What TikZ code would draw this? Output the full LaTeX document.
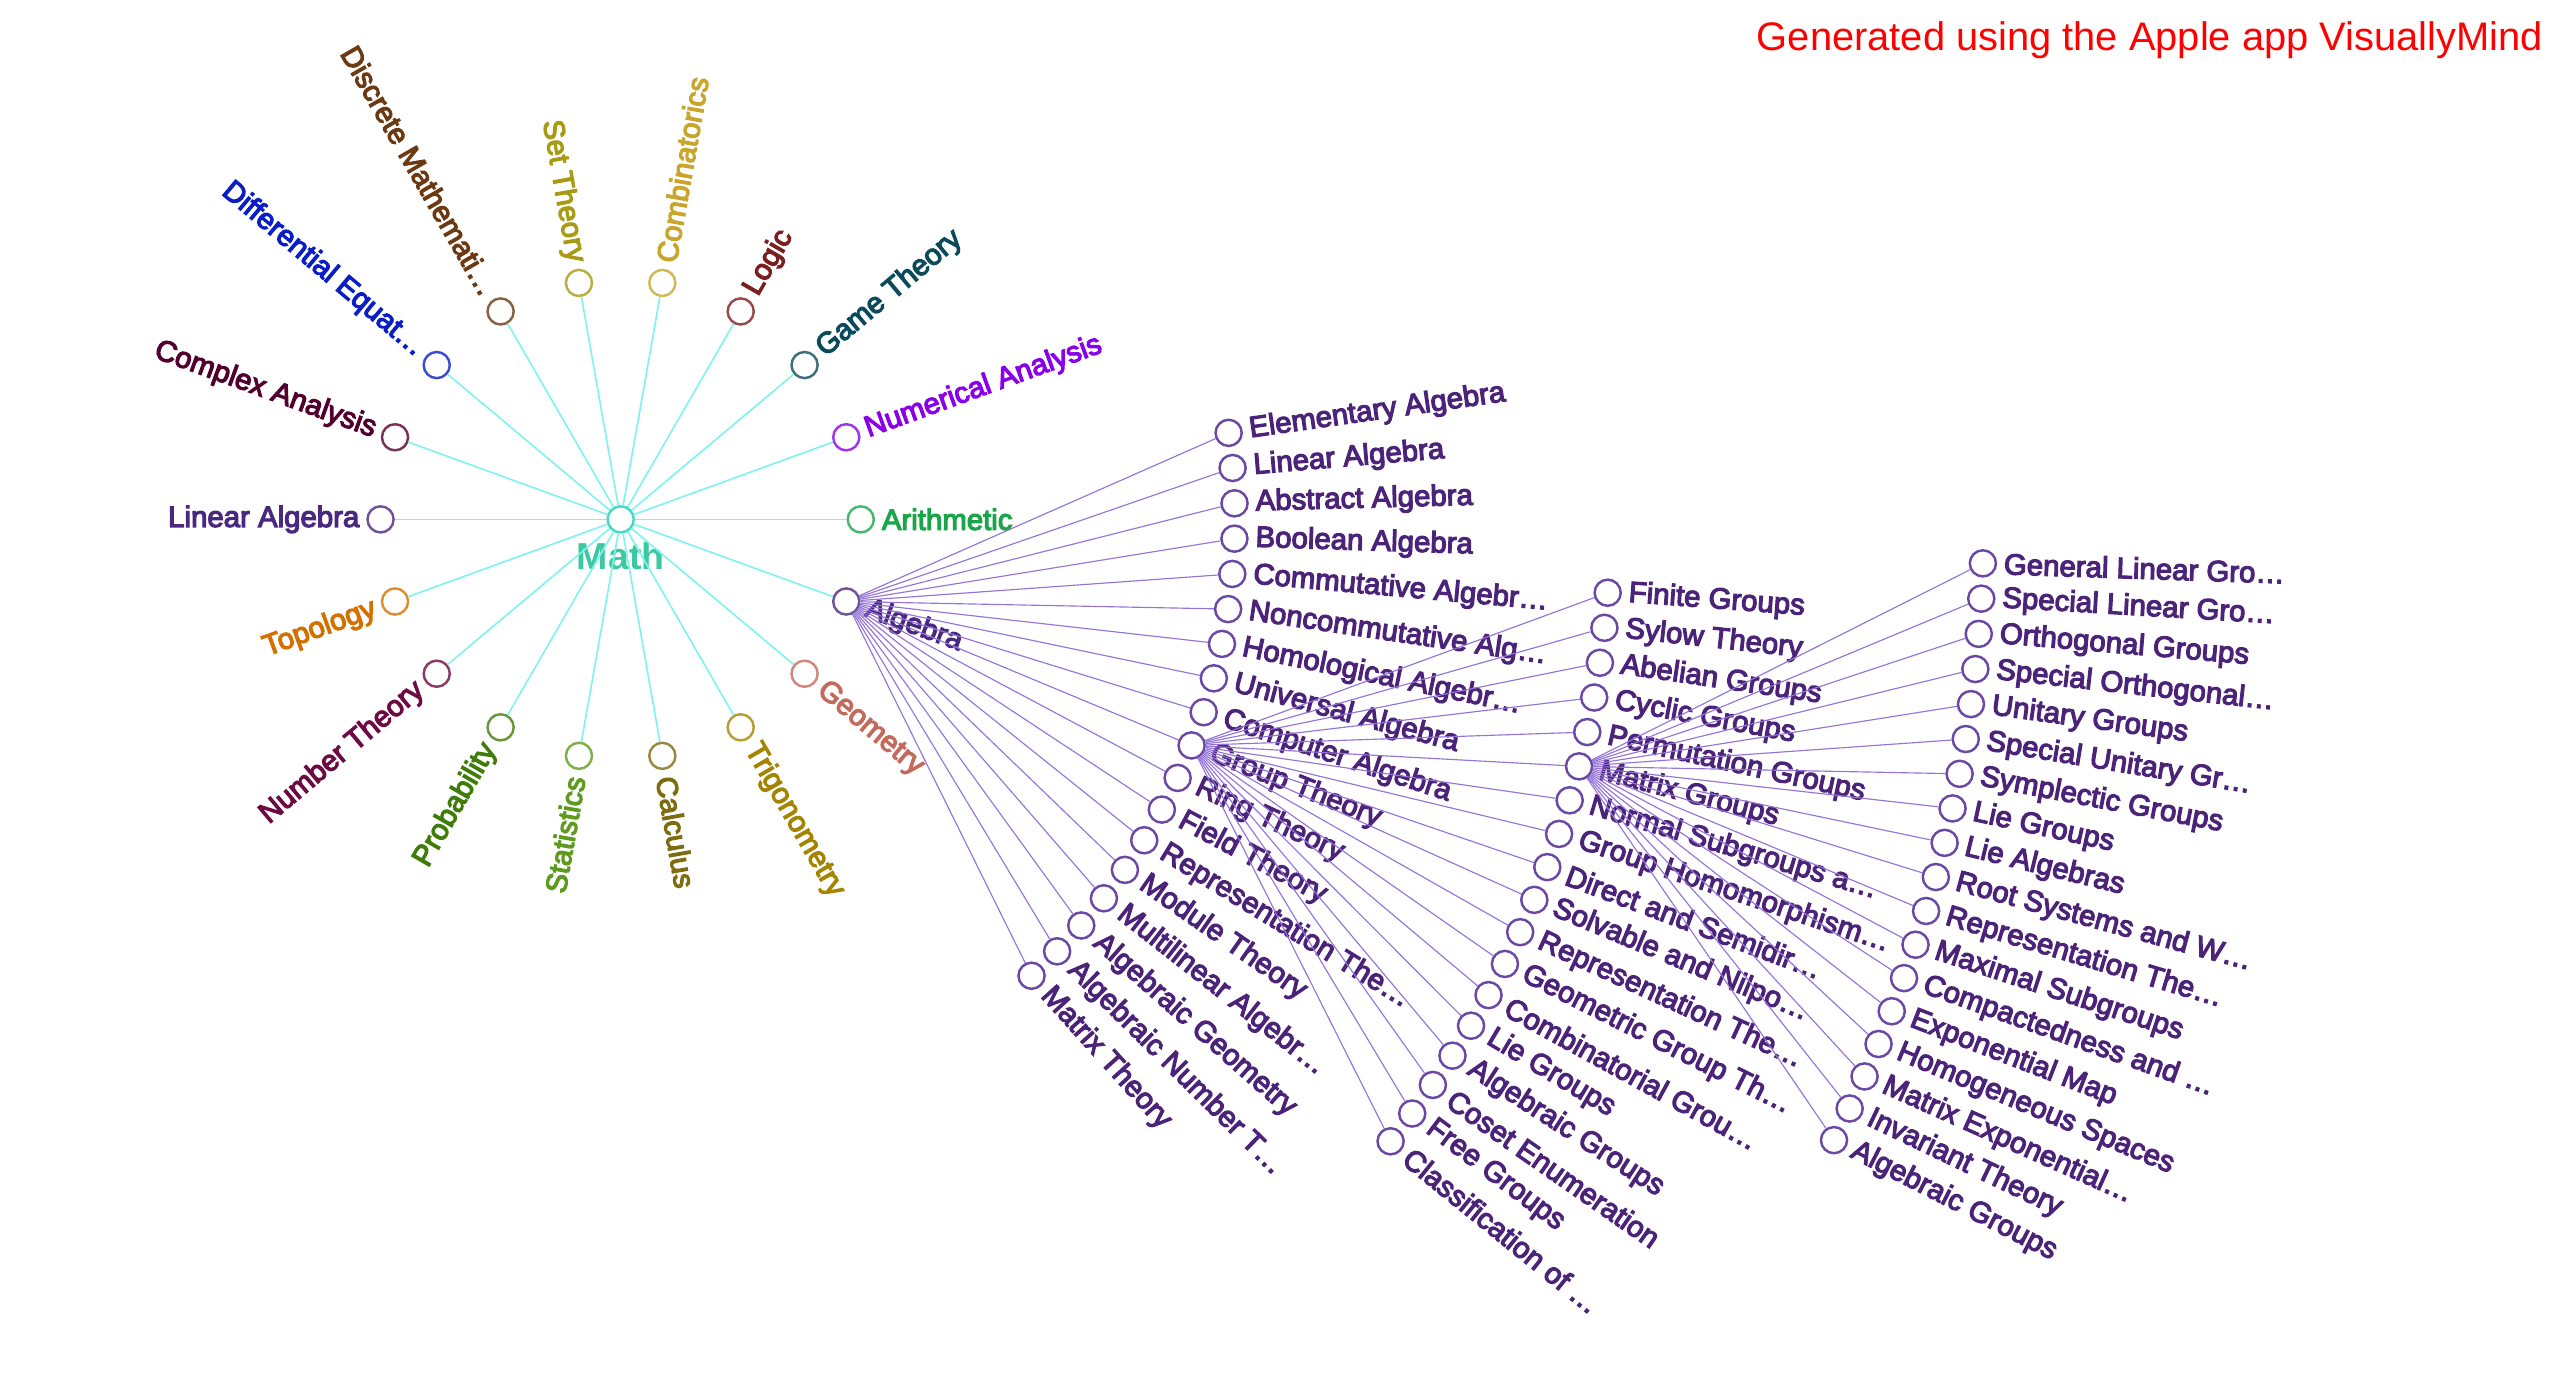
\documentclass[tikz,border=0pt]{standalone}
\usepackage{fontspec}
\setmainfont{Liberation Sans}
\font\mapfont="Liberation Sans:embolden=4" at 18pt
\font\rootfont="Liberation Sans/B" at 23pt
\usetikzlibrary{positioning}

\definecolor{mathtext}{HTML}{3CC9A2}
\definecolor{mathring}{HTML}{48D8C8}
\definecolor{mathline}{HTML}{7FF3EE}
\definecolor{algtext}{HTML}{4B2378}
\definecolor{algring}{HTML}{6A48A4}
\definecolor{algline}{HTML}{9474D8}
\definecolor{cArith}{HTML}{1AA54A}
\definecolor{cNum}{HTML}{8A00E8}
\definecolor{cGame}{HTML}{0B4A5A}
\definecolor{cLogic}{HTML}{7A1E1E}
\definecolor{cComb}{HTML}{C9A52C}
\definecolor{cSet}{HTML}{A89A12}
\definecolor{cDisc}{HTML}{6B3A12}
\definecolor{cDiff}{HTML}{0A1EC8}
\definecolor{cCplx}{HTML}{52002E}
\definecolor{cLin}{HTML}{4A2880}
\definecolor{cTopo}{HTML}{D47000}
\definecolor{cNumth}{HTML}{6E0A42}
\definecolor{cProb}{HTML}{3E7E08}
\definecolor{cStat}{HTML}{5E9A1E}
\definecolor{cCalc}{HTML}{7E6C10}
\definecolor{cTrig}{HTML}{A48400}
\definecolor{cGeom}{HTML}{C46A5C}
\definecolor{cAlg}{HTML}{4A2880}

\begin{document}
\begin{tikzpicture}[
    x=1pt, y=1pt,
    dot/.style={circle, draw, line width=1.5pt, minimum size=16pt, inner sep=0pt, fill=white},
    lbl/.style={font=\mapfont, inner sep=4pt},
    rootline/.style={draw=mathline, line width=1pt},
    subline/.style={draw=algline, line width=0.7pt}
  ]

  \useasboundingbox (-380,-538) rectangle (1188,318);

  % Root
  \node[dot, draw=mathring] (math) at (0,0) {};
  \node[font=\rootfont, text=mathtext] (math-t) at (0,-22.5) {Math};

  % First ring, one branch every 20 degrees
  \foreach \a/\nm/\col/\rot/\side/\txt in {
      0/arith/cArith/0/west/Arithmetic,
      20/numan/cNum/20/west/Numerical Analysis,
      40/game/cGame/40/west/Game Theory,
      60/logic/cLogic/60/west/Logic,
      80/comb/cComb/80/west/Combinatorics,
      100/sets/cSet/-80/east/Set Theory,
      120/discr/cDisc/-60/east/Discrete Mathemati…,
      140/diffeq/cDiff/-40/east/Differential Equat…,
      160/cplx/cCplx/-20/east/Complex Analysis,
      180/linalg/cLin/0/east/Linear Algebra,
      200/topo/cTopo/20/east/Topology,
      220/numth/cNumth/40/east/Number Theory,
      240/prob/cProb/60/east/Probability,
      260/stats/cStat/80/east/Statistics,
      280/calc/cCalc/-80/west/Calculus,
      300/trig/cTrig/-60/west/Trigonometry,
      320/geom/cGeom/-40/west/Geometry,
      340/alg/cAlg/-20/west/Algebra}{
    \node[dot, draw=\col!80!white] (\nm) at (\a:147) {};
    \draw[rootline] (math) -- (\nm);
    \node[lbl, text=\col, rotate=\rot, anchor=\side] (\nm-t) at (\nm.\a) {\txt};
  }

  % Algebra
  \foreach \nm/\txt [count=\i from 0] in {
      elem/Elementary Algebra, lin2/Linear Algebra, abst/Abstract Algebra,
      bool/Boolean Algebra, comm/Commutative Algebr…, noncomm/Noncommutative Alg…,
      homol/Homological Algebr…, univ/Universal Algebra, compalg/Computer Algebra,
      group/Group Theory, ring/Ring Theory, field/Field Theory,
      rep2/Representation The…, module/Module Theory, multi/Multilinear Algebr…,
      alggeo/Algebraic Geometry, algnum/Algebraic Number T…, mattheo/Matrix Theory}{
    \pgfmathsetmacro\a{8.1-3.3*\i}
    \node[dot, draw=algring] (\nm) at (\a:376) {};
    \draw[subline] (alg) -- (\nm);
    \node[lbl, text=algtext, rotate=\a, anchor=west] (\nm-t) at (\nm.\a) {\txt};
  }

  % Group Theory
  \foreach \nm/\txt [count=\i from 0] in {
      finite/Finite Groups, sylow/Sylow Theory, abel/Abelian Groups,
      cyclic/Cyclic Groups, perm/Permutation Groups, matgrp/Matrix Groups,
      normal/Normal Subgroups a…, homom/Group Homomorphism…, direct/Direct and Semidir…,
      solv/Solvable and Nilpo…, rep3/Representation The…, geogrp/Geometric Group Th…,
      combgrp/Combinatorial Grou…, lie3/Lie Groups, alggrp3/Algebraic Groups,
      coset/Coset Enumeration, free/Free Groups, classif/Classification of …}{
    \pgfmathsetmacro\a{-4.25-2.04*\i}
    \node[dot, draw=algring] (\nm) at (\a:606) {};
    \draw[subline] (group) -- (\nm);
    \node[lbl, text=algtext, rotate=\a, anchor=west] (\nm-t) at (\nm.\a) {\txt};
  }

  % Matrix Groups
  \foreach \nm/\txt [count=\i from 0] in {
      gl/General Linear Gro…, sl/Special Linear Gro…, orth/Orthogonal Groups,
      so/Special Orthogonal…, unit/Unitary Groups, su/Special Unitary Gr…,
      symp/Symplectic Groups, lie4/Lie Groups, liealg/Lie Algebras,
      root/Root Systems and W…, rep4/Representation The…, maxsub/Maximal Subgroups,
      compact/Compactedness and …, expmap/Exponential Map, homog/Homogeneous Spaces,
      matexp/Matrix Exponential…, invar/Invariant Theory, alggrp4/Algebraic Groups}{
    \pgfmathsetmacro\a{-1.85-1.485*\i}
    \node[dot, draw=algring] (\nm) at (\a:834.5) {};
    \draw[subline] (matgrp) -- (\nm);
    \node[lbl, text=algtext, rotate=\a, anchor=west] (\nm-t) at (\nm.\a) {\txt};
  }

  % Credit line
  \node[font=\fontsize{24.4}{28}\selectfont, text=red, anchor=base east, inner sep=0pt] (credit) at (1177,287) {Generated using the Apple app VisuallyMind};

\end{tikzpicture}
\end{document}
